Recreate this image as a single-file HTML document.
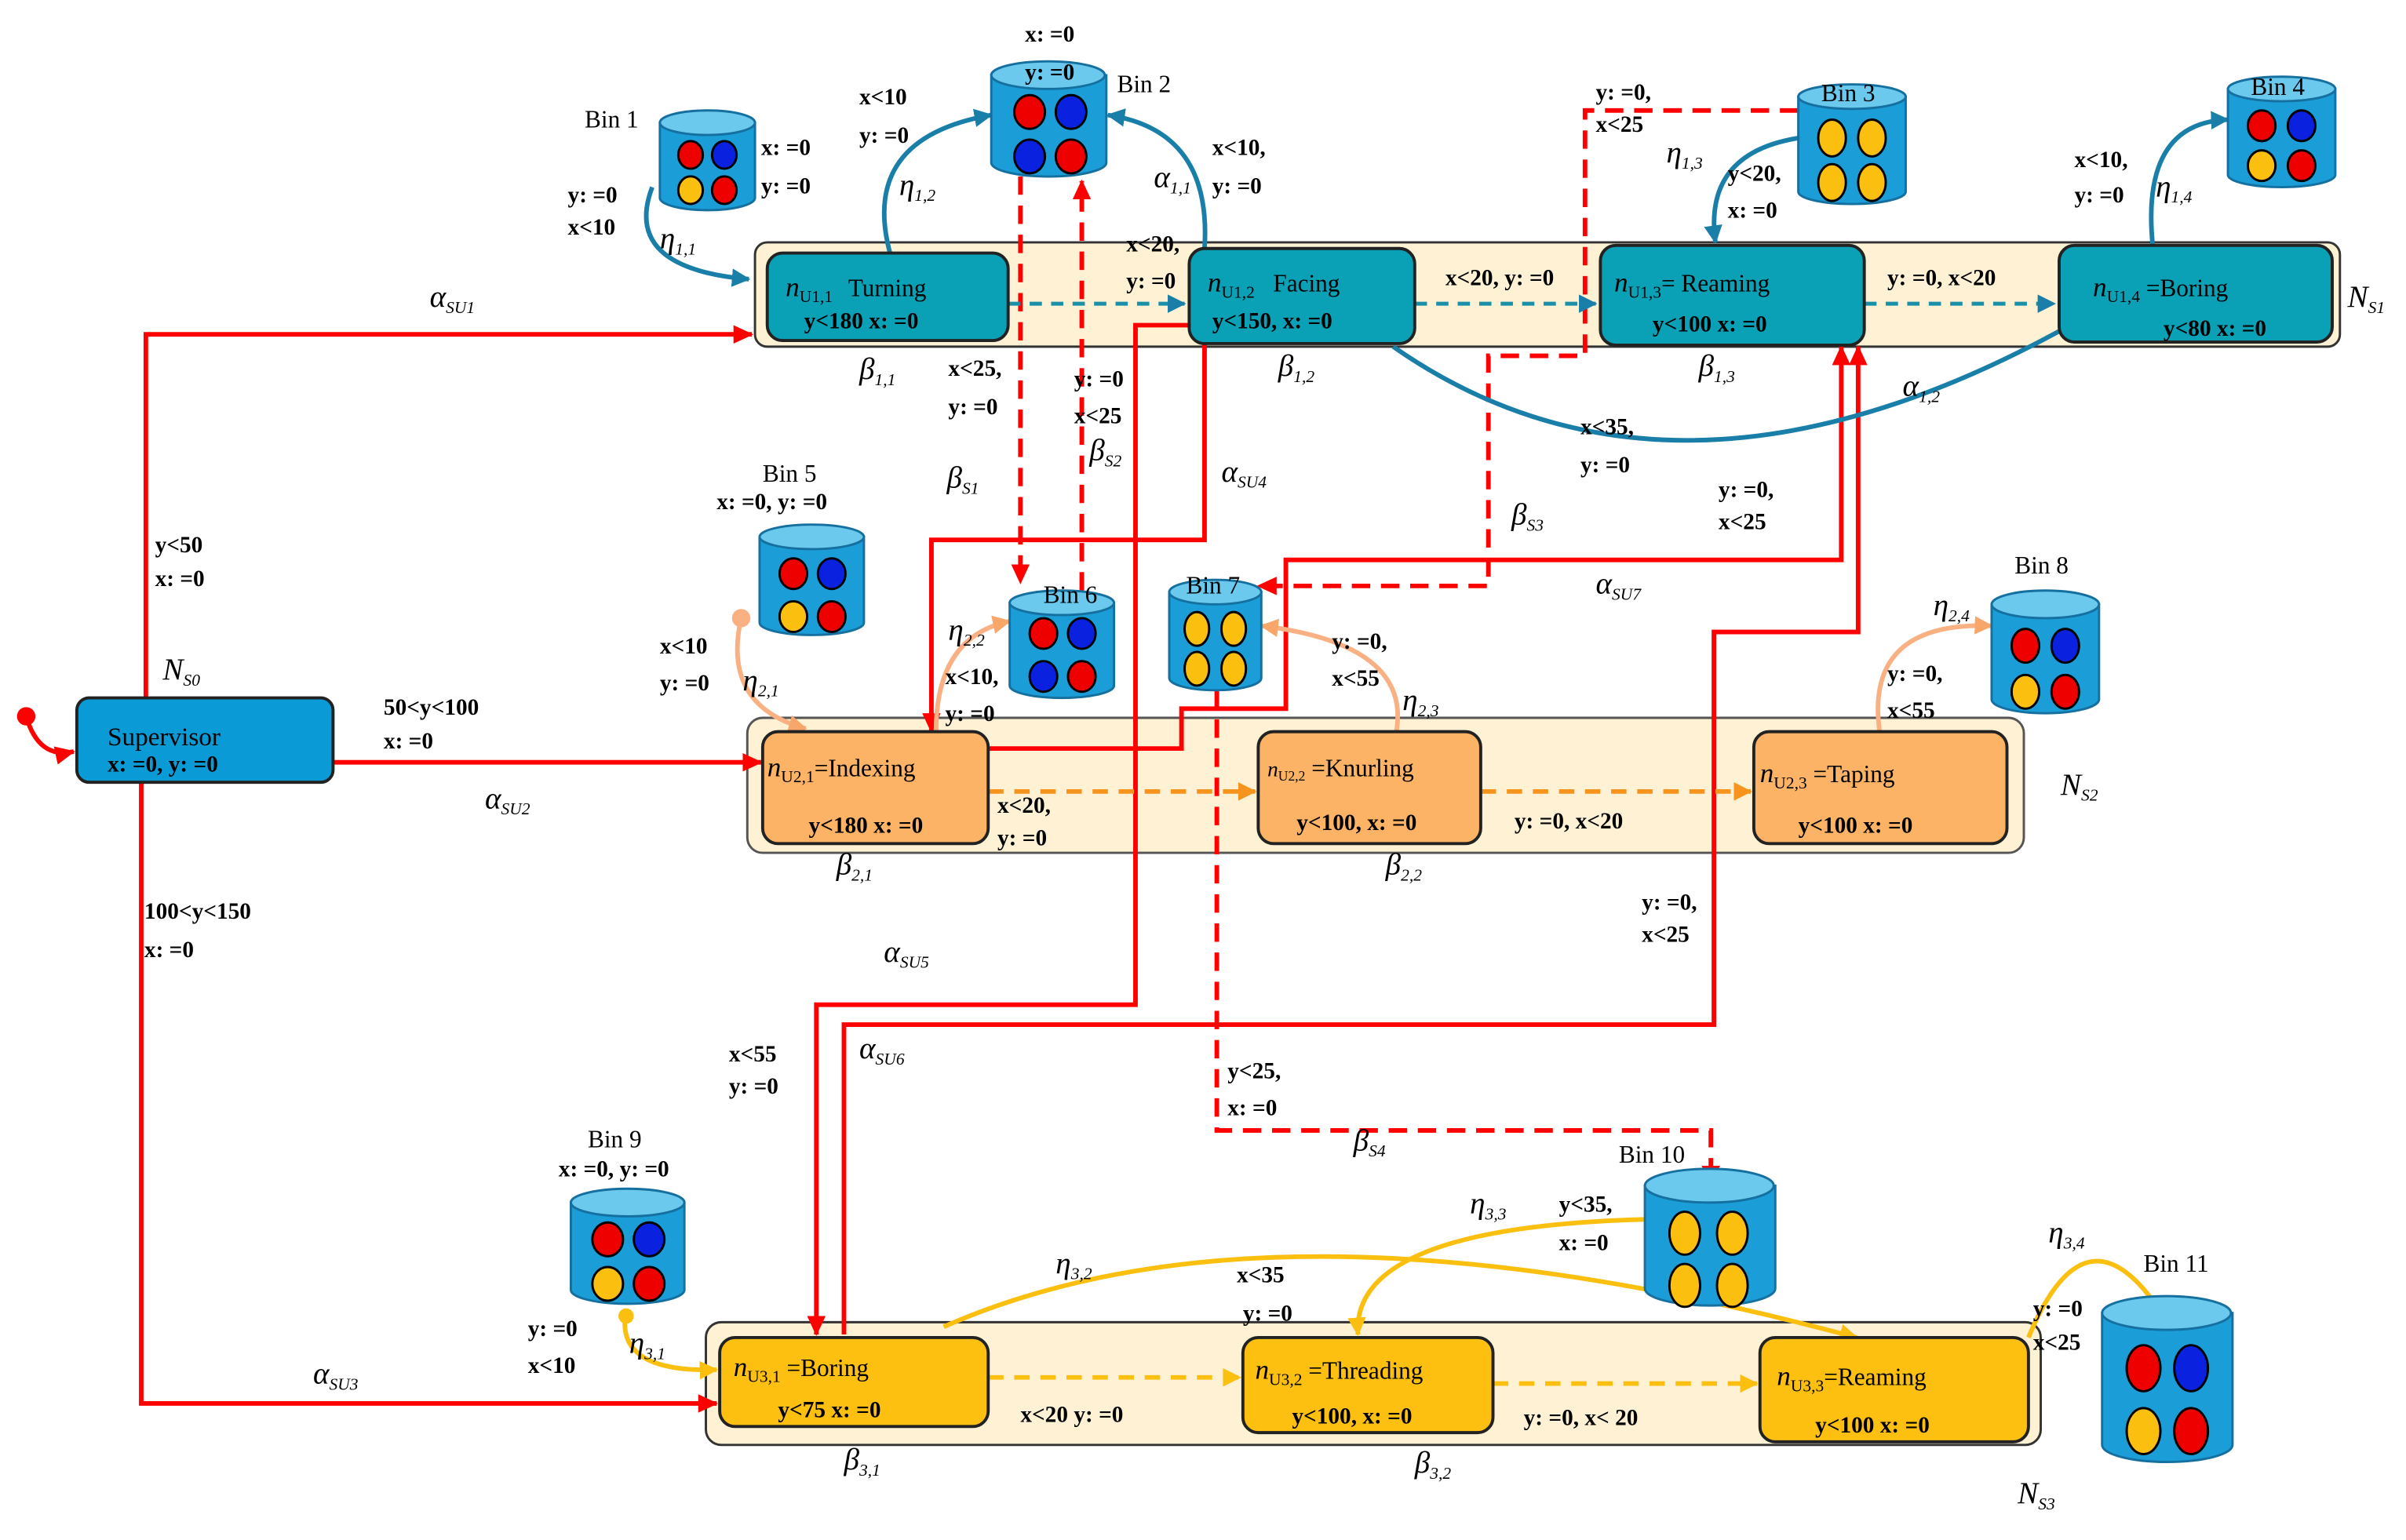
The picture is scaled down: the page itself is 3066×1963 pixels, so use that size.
<!DOCTYPE html>
<html><head><meta charset="utf-8"><style>
html,body{margin:0;padding:0;background:#fff}
svg{display:block}
text{font-family:"Liberation Serif",serif;fill:#000}
.b{font-weight:bold;font-size:15px}
.g{font-style:italic;font-size:20px}
.n{font-size:16px}
</style></head><body>
<svg width="3066" height="1963" viewBox="0 0 1568 1004" xmlns="http://www.w3.org/2000/svg">
<defs>
<marker id="ar" markerWidth="8" markerHeight="8" refX="7" refY="4" orient="auto" markerUnits="userSpaceOnUse"><path d="M0,0 L8,4 L0,8z" fill="#f00"/></marker>
<marker id="ar2" markerWidth="14" markerHeight="12" refX="12" refY="6" orient="auto" markerUnits="userSpaceOnUse"><path d="M0,0 L13,6 L0,12z" fill="#f00"/></marker>
<marker id="at" markerWidth="12" markerHeight="12" refX="11" refY="6" orient="auto" markerUnits="userSpaceOnUse"><path d="M0,0 L12,6 L0,12z" fill="#1a7fa8"/></marker>
<marker id="ao" markerWidth="12" markerHeight="12" refX="11" refY="6" orient="auto" markerUnits="userSpaceOnUse"><path d="M0,0 L12,6 L0,12z" fill="#f9a66a"/></marker>
<marker id="ao2" markerWidth="12" markerHeight="12" refX="11" refY="6" orient="auto" markerUnits="userSpaceOnUse"><path d="M0,0 L12,6 L0,12z" fill="#f7941d"/></marker>
<marker id="ay" markerWidth="12" markerHeight="12" refX="11" refY="6" orient="auto" markerUnits="userSpaceOnUse"><path d="M0,0 L12,6 L0,12z" fill="#fbbf10"/></marker>
</defs>

<!-- lanes -->
<rect x="492" y="158" width="1033" height="68" rx="8" fill="#fef1d4" stroke="#333" stroke-width="1.5"/>
<rect x="487" y="468" width="832" height="88" rx="10" fill="#fef1d4" stroke="#555" stroke-width="1.5"/>
<rect x="460" y="862" width="870" height="80" rx="10" fill="#fef1d4" stroke="#333" stroke-width="1.5"/>

<!-- red solid lines -->
<g fill="none" stroke="#f00" stroke-width="3">
<path d="M95,455 V218 H490" marker-end="url(#ar2)"/>
<path d="M217,497 H496" marker-end="url(#ar2)"/>
<path d="M92,510 V915 H467" marker-end="url(#ar2)"/>
<path d="M785,224 V352 H607 V477" marker-end="url(#ar2)"/>
<path d="M775,212 H740 V655 H532 V870" marker-end="url(#ar2)"/>
<path d="M644,488 H770 V462 H838 V365 H1200 V226" marker-end="url(#ar2)"/>
<path d="M550,870 V668 H1117 V412 H1211 V226" marker-end="url(#ar2)"/>
</g>
<!-- red dashed -->
<g fill="none" stroke="#f00" stroke-width="3" stroke-dasharray="12,7">
<path d="M665,115 V380" marker-end="url(#ar2)"/>
<path d="M705,385 V118" marker-end="url(#ar2)"/>
<path d="M1172,72 H1033 V232 H970 V382 H820" marker-end="url(#ar2)"/>
<path d="M793,450 V737 H1115 V772" marker-end="url(#ar2)"/>
</g>
<!-- start -->
<circle cx="17" cy="467" r="6" fill="#f00"/>
<path d="M17,467 Q25,495 48,490" fill="none" stroke="#f00" stroke-width="3" marker-end="url(#ar2)"/>

<!-- teal curves -->
<g fill="none" stroke="#1a7fa8" stroke-width="3">
<path d="M425,122 Q405,175 488,182" marker-end="url(#at)"/>
<path d="M580,165 Q560,90 646,75" marker-end="url(#at)"/>
<path d="M785,162 Q790,85 722,75" marker-end="url(#at)"/>
<path d="M1172,90 Q1110,100 1118,158" marker-end="url(#at)"/>
<path d="M1403,160 Q1395,80 1452,78" marker-end="url(#at)"/>
<path d="M908,226 Q1100,360 1370,200" marker-end="url(#at)"/>
</g>
<g fill="none" stroke="#1a8fa8" stroke-width="2.5" stroke-dasharray="8,6">
<path d="M657,198 H772" marker-end="url(#at)"/>
<path d="M922,198 H1040" marker-end="url(#at)"/>
<path d="M1215,198 H1339" marker-end="url(#at)"/>
</g>
<!-- orange curves -->
<g fill="none" stroke="#f9b183" stroke-width="3">
<path d="M483,403 Q470,460 525,475" marker-end="url(#ao)"/>
<path d="M610,477 Q610,415 658,405" marker-end="url(#ao)"/>
<path d="M910,477 Q920,420 822,408" marker-end="url(#ao)"/>
<path d="M1225,477 Q1215,405 1298,408" marker-end="url(#ao)"/>
</g>
<circle cx="483" cy="403" r="6" fill="#f9b183"/>
<g fill="none" stroke="#f7941d" stroke-width="3" stroke-dasharray="10,7">
<path d="M644,516 H818" marker-end="url(#ao2)"/>
<path d="M965,516 H1141" marker-end="url(#ao2)"/>
</g>
<!-- yellow curves -->
<g fill="none" stroke="#fbbf10" stroke-width="3">
<path d="M408,855 Q400,895 467,893" marker-end="url(#ay)"/>
<path d="M615,865 Q830,770 1210,872" marker-end="url(#ay)"/>
<path d="M1072,795 Q880,800 885,870" marker-end="url(#ay)"/>
<path d="M1322,872 Q1360,780 1410,858" marker-end="url(#ay)"/>
</g>
<circle cx="408" cy="858" r="5" fill="#fbbf10"/>
<g fill="none" stroke="#fbbf10" stroke-width="3" stroke-dasharray="10,7">
<path d="M644,898 H808" marker-end="url(#ay)"/>
<path d="M973,902 H1145" marker-end="url(#ay)"/>
</g>

<!-- nodes -->
<g stroke="#222" stroke-width="2">
<rect x="500" y="165" width="157" height="57" rx="10" fill="#0aa0b5"/>
<rect x="775" y="162" width="147" height="62" rx="10" fill="#0aa0b5"/>
<rect x="1043" y="160" width="172" height="65" rx="10" fill="#0aa0b5"/>
<rect x="1342" y="160" width="178" height="63" rx="10" fill="#0aa0b5"/>
<rect x="497" y="477" width="147" height="73" rx="10" fill="#fdb366"/>
<rect x="820" y="477" width="145" height="73" rx="10" fill="#fdb366"/>
<rect x="1143" y="477" width="165" height="73" rx="10" fill="#fdb366"/>
<rect x="469" y="872" width="175" height="58" rx="10" fill="#fdc010"/>
<rect x="810" y="872" width="163" height="62" rx="10" fill="#fdc010"/>
<rect x="1147" y="872" width="175" height="68" rx="10" fill="#fdc010"/>
<rect x="50" y="455" width="167" height="55" rx="8" fill="#0a9bd6"/>
</g>

<!-- bins -->
<g id="bins" stroke="#1570a0" stroke-width="1.5">
<g transform="translate(430,72)"><path d="M0,8 V57 A31,8 0 0 0 62,57 V8z" fill="#1b9ed8"/><ellipse cx="31" cy="8" rx="31" ry="8" fill="#6cc9ee"/>
<g stroke="#000"><ellipse cx="20" cy="29" rx="8" ry="9" fill="#e00"/><ellipse cx="42" cy="29" rx="8" ry="9" fill="#0a22e0"/><ellipse cx="20" cy="52" rx="8" ry="9" fill="#fbbf10"/><ellipse cx="42" cy="52" rx="8" ry="9" fill="#e00"/></g></g>
<g transform="translate(646,40)"><path d="M0,9 V66 A37,9 0 0 0 75,66 V9z" fill="#1b9ed8"/><ellipse cx="37" cy="9" rx="37" ry="9" fill="#6cc9ee"/>
<g stroke="#000"><ellipse cx="25" cy="33" rx="10" ry="11" fill="#e00"/><ellipse cx="52" cy="33" rx="10" ry="11" fill="#0a22e0"/><ellipse cx="25" cy="62" rx="10" ry="11" fill="#0a22e0"/><ellipse cx="52" cy="62" rx="10" ry="11" fill="#e00"/></g></g>
<g transform="translate(1172,55)"><path d="M0,8 V70 A35,8 0 0 0 70,70 V8z" fill="#1b9ed8"/><ellipse cx="35" cy="8" rx="35" ry="8" fill="#6cc9ee"/>
<g stroke="#000"><ellipse cx="22" cy="35" rx="9" ry="12" fill="#fbbf10"/><ellipse cx="48" cy="35" rx="9" ry="12" fill="#fbbf10"/><ellipse cx="22" cy="64" rx="9" ry="12" fill="#fbbf10"/><ellipse cx="48" cy="64" rx="9" ry="12" fill="#fbbf10"/></g></g>
<g transform="translate(1452,50)"><path d="M0,8 V64 A35,8 0 0 0 70,64 V8z" fill="#1b9ed8"/><ellipse cx="35" cy="8" rx="35" ry="8" fill="#6cc9ee"/>
<g stroke="#000"><ellipse cx="22" cy="32" rx="9" ry="10" fill="#e00"/><ellipse cx="48" cy="32" rx="9" ry="10" fill="#0a22e0"/><ellipse cx="22" cy="58" rx="9" ry="10" fill="#fbbf10"/><ellipse cx="48" cy="58" rx="9" ry="10" fill="#e00"/></g></g>
<g transform="translate(495,342)"><path d="M0,8 V64 A34,8 0 0 0 68,64 V8z" fill="#1b9ed8"/><ellipse cx="34" cy="8" rx="34" ry="8" fill="#6cc9ee"/>
<g stroke="#000"><ellipse cx="22" cy="32" rx="9" ry="10" fill="#e00"/><ellipse cx="47" cy="32" rx="9" ry="10" fill="#0a22e0"/><ellipse cx="22" cy="60" rx="9" ry="10" fill="#fbbf10"/><ellipse cx="47" cy="60" rx="9" ry="10" fill="#e00"/></g></g>
<g transform="translate(658,385)"><path d="M0,8 V62 A34,8 0 0 0 68,62 V8z" fill="#1b9ed8"/><ellipse cx="34" cy="8" rx="34" ry="8" fill="#6cc9ee"/>
<g stroke="#000"><ellipse cx="22" cy="28" rx="9" ry="10" fill="#e00"/><ellipse cx="47" cy="28" rx="9" ry="10" fill="#0a22e0"/><ellipse cx="22" cy="56" rx="9" ry="10" fill="#0a22e0"/><ellipse cx="47" cy="56" rx="9" ry="10" fill="#e00"/></g></g>
<g transform="translate(762,378)"><path d="M0,8 V64 A30,8 0 0 0 60,64 V8z" fill="#1b9ed8"/><ellipse cx="30" cy="8" rx="30" ry="8" fill="#6cc9ee"/>
<g stroke="#000"><ellipse cx="18" cy="32" rx="8" ry="11" fill="#fbbf10"/><ellipse cx="42" cy="32" rx="8" ry="11" fill="#fbbf10"/><ellipse cx="18" cy="58" rx="8" ry="11" fill="#fbbf10"/><ellipse cx="42" cy="58" rx="8" ry="11" fill="#fbbf10"/></g></g>
<g transform="translate(1298,385)"><path d="M0,9 V71 A35,9 0 0 0 70,71 V9z" fill="#1b9ed8"/><ellipse cx="35" cy="9" rx="35" ry="9" fill="#6cc9ee"/>
<g stroke="#000"><ellipse cx="22" cy="36" rx="9" ry="11" fill="#e00"/><ellipse cx="48" cy="36" rx="9" ry="11" fill="#0a22e0"/><ellipse cx="22" cy="66" rx="9" ry="11" fill="#fbbf10"/><ellipse cx="48" cy="66" rx="9" ry="11" fill="#e00"/></g></g>
<g transform="translate(372,775)"><path d="M0,9 V66 A37,9 0 0 0 74,66 V9z" fill="#1b9ed8"/><ellipse cx="37" cy="9" rx="37" ry="9" fill="#6cc9ee"/>
<g stroke="#000"><ellipse cx="24" cy="33" rx="10" ry="11" fill="#e00"/><ellipse cx="51" cy="33" rx="10" ry="11" fill="#0a22e0"/><ellipse cx="24" cy="62" rx="10" ry="11" fill="#fbbf10"/><ellipse cx="51" cy="62" rx="10" ry="11" fill="#e00"/></g></g>
<g transform="translate(1072,762)"><path d="M0,11 V78 A42,11 0 0 0 85,78 V11z" fill="#1b9ed8"/><ellipse cx="42" cy="11" rx="42" ry="11" fill="#6cc9ee"/>
<g stroke="#000"><ellipse cx="26" cy="42" rx="10" ry="14" fill="#fbbf10"/><ellipse cx="57" cy="42" rx="10" ry="14" fill="#fbbf10"/><ellipse cx="26" cy="76" rx="10" ry="14" fill="#fbbf10"/><ellipse cx="57" cy="76" rx="10" ry="14" fill="#fbbf10"/></g></g>
<g transform="translate(1370,845)"><path d="M0,11 V97 A42,11 0 0 0 85,97 V11z" fill="#1b9ed8"/><ellipse cx="42" cy="11" rx="42" ry="11" fill="#6cc9ee"/>
<g stroke="#000"><ellipse cx="27" cy="47" rx="11" ry="15" fill="#e00"/><ellipse cx="58" cy="47" rx="11" ry="15" fill="#0a22e0"/><ellipse cx="27" cy="88" rx="11" ry="15" fill="#fbbf10"/><ellipse cx="58" cy="88" rx="11" ry="15" fill="#e00"/></g></g>
</g>

<!-- bin labels -->
<g class="n">
<text x="381" y="83">Bin 1</text>
<text x="728" y="60">Bin 2</text>
<text x="1187" y="66">Bin 3</text>
<text x="1467" y="62">Bin 4</text>
<text x="497" y="314">Bin 5</text>
<text x="680" y="393">Bin 6</text>
<text x="773" y="387">Bin 7</text>
<text x="1313" y="374">Bin 8</text>
<text x="383" y="748">Bin 9</text>
<text x="1055" y="758">Bin 10</text>
<text x="1397" y="829">Bin 11</text>
</g>

<!-- node text -->
<g font-size="16">
<text x="512" y="193"><tspan font-style="italic" font-size="18">n</tspan><tspan font-size="11" dy="4">U1,1</tspan><tspan dy="-4" dx="10">Turning</tspan></text>
<text x="524" y="214" class="b">y&lt;180 x: =0</text>
<text x="787" y="190"><tspan font-style="italic" font-size="18">n</tspan><tspan font-size="11" dy="4">U1,2</tspan><tspan dy="-4" dx="12">Facing</tspan></text>
<text x="790" y="214" class="b">y&lt;150, x: =0</text>
<text x="1052" y="190"><tspan font-style="italic" font-size="18">n</tspan><tspan font-size="11" dy="4">U1,3</tspan><tspan dy="-4">= Reaming</tspan></text>
<text x="1077" y="216" class="b">y&lt;100 x: =0</text>
<text x="1364" y="193"><tspan font-style="italic" font-size="18">n</tspan><tspan font-size="11" dy="4">U1,4</tspan><tspan dy="-4"> =Boring</tspan></text>
<text x="1410" y="219" class="b">y&lt;80 x: =0</text>
<text x="500" y="506"><tspan font-style="italic" font-size="18">n</tspan><tspan font-size="11" dy="4">U2,1</tspan><tspan dy="-4">=Indexing</tspan></text>
<text x="527" y="543" class="b">y&lt;180 x: =0</text>
<text x="826" y="506"><tspan font-style="italic" font-size="14">n</tspan><tspan font-size="9" dy="3">U2,2</tspan><tspan dy="-3"> =Knurling</tspan></text>
<text x="845" y="541" class="b">y&lt;100, x: =0</text>
<text x="1147" y="510"><tspan font-style="italic" font-size="18">n</tspan><tspan font-size="11" dy="4">U2,3</tspan><tspan dy="-4"> =Taping</tspan></text>
<text x="1172" y="543" class="b">y&lt;100 x: =0</text>
<text x="478" y="897"><tspan font-style="italic" font-size="18">n</tspan><tspan font-size="11" dy="4">U3,1</tspan><tspan dy="-4"> =Boring</tspan></text>
<text x="507" y="924" class="b">y&lt;75 x: =0</text>
<text x="818" y="899"><tspan font-style="italic" font-size="18">n</tspan><tspan font-size="11" dy="4">U3,2</tspan><tspan dy="-4"> =Threading</tspan></text>
<text x="842" y="928" class="b">y&lt;100, x: =0</text>
<text x="1158" y="903"><tspan font-style="italic" font-size="18">n</tspan><tspan font-size="11" dy="4">U3,3</tspan><tspan dy="-4">=Reaming</tspan></text>
<text x="1183" y="934" class="b">y&lt;100 x: =0</text>
<text x="70" y="486" font-size="17">Supervisor</text>
<text x="70" y="503" class="b">x: =0, y: =0</text>
</g>

<!-- condition labels -->
<g class="b">
<text x="668" y="27">x: =0</text>
<text x="668" y="52">y: =0</text>
<text x="560" y="68">x&lt;10</text>
<text x="560" y="93">y: =0</text>
<text x="496" y="101">x: =0</text>
<text x="496" y="126">y: =0</text>
<text x="370" y="132">y: =0</text>
<text x="370" y="153">x&lt;10</text>
<text x="790" y="101">x&lt;10,</text>
<text x="790" y="126">y: =0</text>
<text x="734" y="164">x&lt;20,</text>
<text x="734" y="188">y: =0</text>
<text x="942" y="186">x&lt;20, y: =0</text>
<text x="1040" y="65">y: =0,</text>
<text x="1040" y="86">x&lt;25</text>
<text x="1126" y="118">y&lt;20,</text>
<text x="1126" y="142">x: =0</text>
<text x="1230" y="186">y: =0, x&lt;20</text>
<text x="1352" y="109">x&lt;10,</text>
<text x="1352" y="132">y: =0</text>
<text x="618" y="245">x&lt;25,</text>
<text x="618" y="270">y: =0</text>
<text x="700" y="252">y: =0</text>
<text x="700" y="276">x&lt;25</text>
<text x="1030" y="283">x&lt;35,</text>
<text x="1030" y="308">y: =0</text>
<text x="1120" y="324">y: =0,</text>
<text x="1120" y="345">x&lt;25</text>
<text x="101" y="360">y&lt;50</text>
<text x="101" y="382">x: =0</text>
<text x="467" y="332">x: =0, y: =0</text>
<text x="430" y="426">x&lt;10</text>
<text x="430" y="450">y: =0</text>
<text x="616" y="446">x&lt;10,</text>
<text x="616" y="470">y: =0</text>
<text x="868" y="423">y: =0,</text>
<text x="868" y="447">x&lt;55</text>
<text x="1230" y="444">y: =0,</text>
<text x="1230" y="468">x&lt;55</text>
<text x="250" y="466">50&lt;y&lt;100</text>
<text x="250" y="488">x: =0</text>
<text x="650" y="530">x&lt;20,</text>
<text x="650" y="551">y: =0</text>
<text x="987" y="540">y: =0, x&lt;20</text>
<text x="1070" y="593">y: =0,</text>
<text x="1070" y="614">x&lt;25</text>
<text x="94" y="599">100&lt;y&lt;150</text>
<text x="94" y="624">x: =0</text>
<text x="475" y="692">x&lt;55</text>
<text x="475" y="713">y: =0</text>
<text x="800" y="703">y&lt;25,</text>
<text x="800" y="727">x: =0</text>
<text x="364" y="767">x: =0, y: =0</text>
<text x="1016" y="790">y&lt;35,</text>
<text x="1016" y="815">x: =0</text>
<text x="806" y="836">x&lt;35</text>
<text x="810" y="861">y: =0</text>
<text x="344" y="871">y: =0</text>
<text x="344" y="895">x&lt;10</text>
<text x="1325" y="858">y: =0</text>
<text x="1325" y="880">x&lt;25</text>
<text x="665" y="927">x&lt;20 y: =0</text>
<text x="993" y="929">y: =0, x&lt; 20</text>
</g>

<!-- greek labels -->
<g class="g">
<text x="280" y="200">α<tspan font-size="11" dy="4">SU1</tspan></text>
<text x="316" y="527">α<tspan font-size="11" dy="4">SU2</tspan></text>
<text x="204" y="902">α<tspan font-size="11" dy="4">SU3</tspan></text>
<text x="796" y="314">α<tspan font-size="11" dy="4">SU4</tspan></text>
<text x="576" y="627">α<tspan font-size="11" dy="4">SU5</tspan></text>
<text x="560" y="690">α<tspan font-size="11" dy="4">SU6</tspan></text>
<text x="1040" y="387">α<tspan font-size="11" dy="4">SU7</tspan></text>
<text x="752" y="122">α<tspan font-size="11" dy="4">1,1</tspan></text>
<text x="1240" y="258">α<tspan font-size="11" dy="4">1,2</tspan></text>
<text x="430" y="162">η<tspan font-size="11" dy="4">1,1</tspan></text>
<text x="586" y="127">η<tspan font-size="11" dy="4">1,2</tspan></text>
<text x="1086" y="106">η<tspan font-size="11" dy="4">1,3</tspan></text>
<text x="1405" y="128">η<tspan font-size="11" dy="4">1,4</tspan></text>
<text x="484" y="450">η<tspan font-size="11" dy="4">2,1</tspan></text>
<text x="618" y="417">η<tspan font-size="11" dy="4">2,2</tspan></text>
<text x="914" y="463">η<tspan font-size="11" dy="4">2,3</tspan></text>
<text x="1260" y="401">η<tspan font-size="11" dy="4">2,4</tspan></text>
<text x="410" y="882">η<tspan font-size="11" dy="4">3,1</tspan></text>
<text x="688" y="830">η<tspan font-size="11" dy="4">3,2</tspan></text>
<text x="958" y="791">η<tspan font-size="11" dy="4">3,3</tspan></text>
<text x="1335" y="810">η<tspan font-size="11" dy="4">3,4</tspan></text>
<text x="560" y="247">β<tspan font-size="11" dy="4">1,1</tspan></text>
<text x="833" y="245">β<tspan font-size="11" dy="4">1,2</tspan></text>
<text x="1107" y="245">β<tspan font-size="11" dy="4">1,3</tspan></text>
<text x="545" y="570">β<tspan font-size="11" dy="4">2,1</tspan></text>
<text x="903" y="570">β<tspan font-size="11" dy="4">2,2</tspan></text>
<text x="550" y="958">β<tspan font-size="11" dy="4">3,1</tspan></text>
<text x="922" y="960">β<tspan font-size="11" dy="4">3,2</tspan></text>
<text x="617" y="318">β<tspan font-size="11" dy="4">S1</tspan></text>
<text x="710" y="300">β<tspan font-size="11" dy="4">S2</tspan></text>
<text x="985" y="342">β<tspan font-size="11" dy="4">S3</tspan></text>
<text x="882" y="750">β<tspan font-size="11" dy="4">S4</tspan></text>
<text x="106" y="443">N<tspan font-size="11" dy="4">S0</tspan></text>
<text x="1530" y="200">N<tspan font-size="11" dy="4">S1</tspan></text>
<text x="1343" y="518">N<tspan font-size="11" dy="4">S2</tspan></text>
<text x="1315" y="980">N<tspan font-size="11" dy="4">S3</tspan></text>
</g>
</svg>
</body></html>
